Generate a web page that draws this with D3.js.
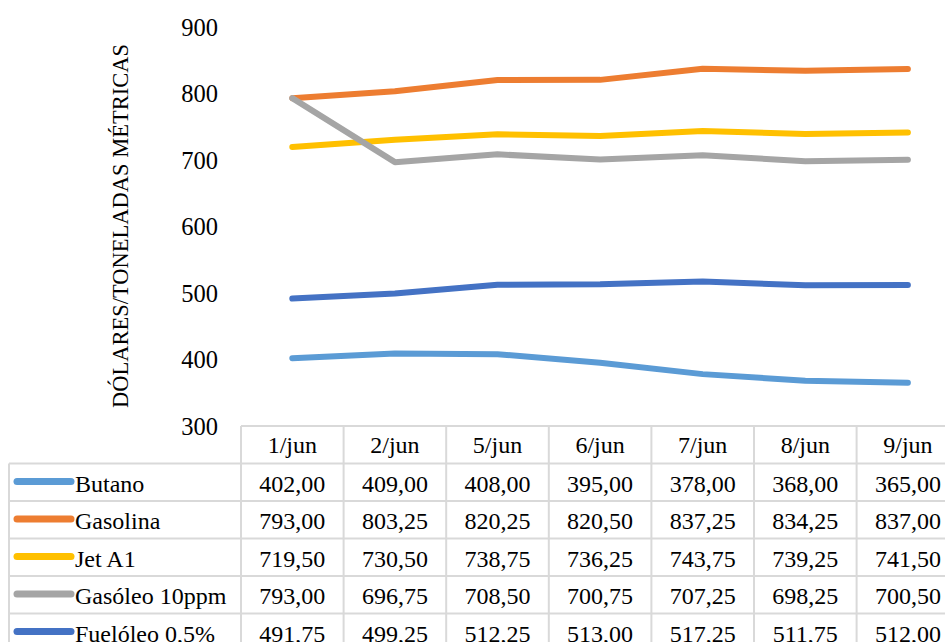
<!DOCTYPE html>
<html>
<head>
<meta charset="utf-8">
<script src="https://cdn.jsdelivr.net/npm/d3@7"></script>
<style>
  body { margin: 0; background: #fff; }
  svg { display: block; font-family: "Liberation Serif", serif; }
</style>
</head>
<body>
<svg id="chart" width="945" height="642"></svg>
<script>
const dates = ["1/jun", "2/jun", "5/jun", "6/jun", "7/jun", "8/jun", "9/jun"];
const seriesNames = ["Butano", "Gasolina", "Jet A1", "Gasóleo 10ppm", "Fuelóleo 0,5%"];
const seriesColors = ["#5B9BD5", "#ED7D31", "#FFC000", "#A5A5A5", "#4472C4"];
const butano = [402.00, 409.00, 408.00, 395.00, 378.00, 368.00, 365.00];
const gasolina = [793.00, 803.25, 820.25, 820.50, 837.25, 834.25, 837.00];
const jetA1 = [719.50, 730.50, 738.75, 736.25, 743.75, 739.25, 741.50];
const gasoleo = [793.00, 696.75, 708.50, 700.75, 707.25, 698.25, 700.50];
const fueloleo = [491.75, 499.25, 512.25, 513.00, 517.25, 511.75, 512.00];
const yTicks = [300, 400, 500, 600, 700, 800, 900];
const yLabel = "DÓLARES/TONELADAS MÉTRICAS";

const seriesValues = [butano, gasolina, jetA1, gasoleo, fueloleo];
const series = seriesNames.map((name, i) => ({
  name: name,
  color: seriesColors[i],
  values: seriesValues[i],
}));

const width = 945,
  height = 642;
const margin = { top: 27, left: 241, tableTop: 426, rowH: 37.5, legendLeft: 9 };
const svg = d3.select("#chart");

// scales
const x = d3
  .scaleBand()
  .domain(dates)
  .range([margin.left, margin.left + dates.length * 102.6])
  .padding(0);

const y = d3.scaleLinear().domain([300, 900]).range([margin.tableTop, margin.top]);

const cx = (d) => x(d) + x.bandwidth() / 2;

// y axis (labels only)
const gY = svg.append("g").attr("transform", "translate(218,0)");
gY.call(d3.axisLeft(y).tickValues(yTicks).tickSize(0).tickPadding(0))
  .call((g) => g.select(".domain").remove())
  .selectAll("text")
  .attr("font-family", "Liberation Serif")
  .attr("font-size", 24.5)
  .attr("fill", "#000")
  .attr("dy", "0.34em");

svg
  .append("text")
  .attr("transform", "translate(128,226) rotate(-90)")
  .attr("text-anchor", "middle")
  .attr("font-size", 22.5)
  .attr("fill", "#000")
  .text(yLabel);

// lines
const line = d3
  .line()
  .x((d, i) => cx(dates[i]))
  .y((d) => y(d));

svg
  .append("g")
  .selectAll("path")
  .data(series)
  .join("path")
  .attr("d", (d) => line(d.values))
  .attr("fill", "none")
  .attr("stroke", (d) => d.color)
  .attr("stroke-width", 6)
  .attr("stroke-linecap", "round")
  .attr("stroke-linejoin", "round");

// data table
const gTable = svg.append("g");
const border = "#d9d9d9";
const rowsTop = margin.tableTop + margin.rowH;
const right = x.range()[1];

// horizontal lines
gTable
  .append("line")
  .attr("x1", margin.left)
  .attr("x2", right)
  .attr("y1", margin.tableTop)
  .attr("y2", margin.tableTop)
  .attr("stroke", border)
  .attr("stroke-width", 2);

gTable
  .selectAll("line.h")
  .data(d3.range(series.length + 1))
  .join("line")
  .attr("class", "h")
  .attr("x1", margin.legendLeft)
  .attr("x2", right)
  .attr("y1", (i) => rowsTop + i * margin.rowH)
  .attr("y2", (i) => rowsTop + i * margin.rowH)
  .attr("stroke", border)
  .attr("stroke-width", 2);

// vertical lines
gTable
  .selectAll("line.v")
  .data(dates.concat(["end"]))
  .join("line")
  .attr("class", "v")
  .attr("x1", (d, i) => margin.left + i * x.bandwidth())
  .attr("x2", (d, i) => margin.left + i * x.bandwidth())
  .attr("y1", margin.tableTop)
  .attr("y2", height + 20)
  .attr("stroke", border)
  .attr("stroke-width", 2);

gTable
  .append("line")
  .attr("x1", margin.legendLeft)
  .attr("x2", margin.legendLeft)
  .attr("y1", rowsTop)
  .attr("y2", height + 20)
  .attr("stroke", border)
  .attr("stroke-width", 2);

// header
gTable
  .selectAll("text.hd")
  .data(dates)
  .join("text")
  .attr("class", "hd")
  .attr("x", (d) => cx(d))
  .attr("y", margin.tableTop + 27)
  .attr("text-anchor", "middle")
  .attr("font-size", 24)
  .text((d) => d);

const fmt = (v) => v.toFixed(2).replace(".", ",");

const rows = gTable
  .selectAll("g.row")
  .data(series)
  .join("g")
  .attr("class", "row")
  .attr("transform", (d, i) => "translate(0," + (rowsTop + i * margin.rowH) + ")");

rows
  .append("line")
  .attr("x1", 17)
  .attr("x2", 71)
  .attr("y1", 18)
  .attr("y2", 18)
  .attr("stroke", (d) => d.color)
  .attr("stroke-width", 7)
  .attr("stroke-linecap", "round");

rows
  .append("text")
  .attr("x", 75)
  .attr("y", 28)
  .attr("font-size", 24)
  .text((d) => d.name);

rows
  .selectAll("text.val")
  .data((d) => d.values)
  .join("text")
  .attr("class", "val")
  .attr("x", (d, i) => cx(dates[i]))
  .attr("y", 28)
  .attr("text-anchor", "middle")
  .attr("font-size", 24)
  .text((d) => fmt(d));
</script>
</body>
</html>
